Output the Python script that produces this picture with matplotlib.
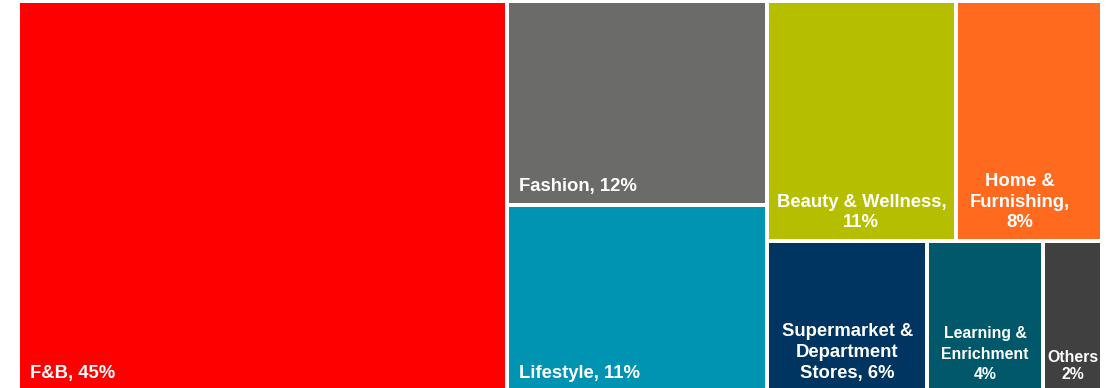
import matplotlib
matplotlib.use("Agg")
import matplotlib.pyplot as plt
from matplotlib.patches import Rectangle

# ========== data ==========
names = ["F&B, 45%", "Fashion, 12%", "Lifestyle, 11%", "Beauty & Wellness,\n11%",
         "Home &\nFurnishing,\n8%", "Supermarket &\nDepartment\nStores, 6%",
         "Learning &\nEnrichment\n4%", "Others\n2%"]
shares = [45.1, 12.5, 11.5, 10.7, 8.3, 5.7, 4.1, 2.1]
colors = ["#FF0000", "#6B6C6A", "#0093B2", "#B6BE00", "#FF6A1F",
          "#003461", "#00586A", "#404040"]
# nesting of the tiles: columns, then rows, then cells
groups = [[0], [1, 2], [[3, 4], [5, 6, 7]]]

W, H = 1084, 391   # axes size in pixels (runs a little past the bottom edge)
GAP = 2


def total(node):
    if isinstance(node, int):
        return shares[node]
    return sum(total(c) for c in node)


def layout(node, x, y, w, h, horizontal, out):
    if isinstance(node, int):
        out[node] = (x, y, w, h)
        return
    s = total(node)
    for child in node:
        frac = total(child) / s
        if horizontal:
            layout(child, x, y, w * frac, h, not horizontal, out)
            x += w * frac
        else:
            layout(child, x, y, w, h * frac, not horizontal, out)
            y += h * frac


rects = {}
layout(groups, 0, 0, W, H, True, rects)

fig = plt.figure(figsize=(11.15, 3.88), dpi=100)
ax = fig.add_axes([18 / 1115, -4 / 388, W / 1115, H / 388])
ax.set_xlim(0, W)
ax.set_ylim(H, 0)
ax.axis("off")

font = ["Liberation Sans", "DejaVu Sans"]
for i, (x, y, w, h) in rects.items():
    ax.add_patch(Rectangle((x + GAP, y + GAP), w - 2 * GAP, h - 2 * GAP,
                           facecolor=colors[i], edgecolor="none"))
    bottom = y + h - GAP - 8
    if i in (0, 1, 2):
        ax.text(x + GAP + 10, bottom, names[i], color="white", fontsize=13.3,
                fontweight="bold", family=font, ha="left", va="bottom")
        continue
    size, spacing, dx = 13.3, 1.3, 0
    if i == 4:
        dx = -9
    if i == 6:
        size, spacing = 11.4, 1.45
    if i == 7:
        size, spacing = 11.4, 1.2
    ax.text(x + w / 2 + dx, bottom, names[i], color="white", fontsize=size,
            fontweight="bold", family=font, ha="center", va="bottom",
            multialignment="center", linespacing=spacing)

fig.savefig("out.png", dpi=100)
